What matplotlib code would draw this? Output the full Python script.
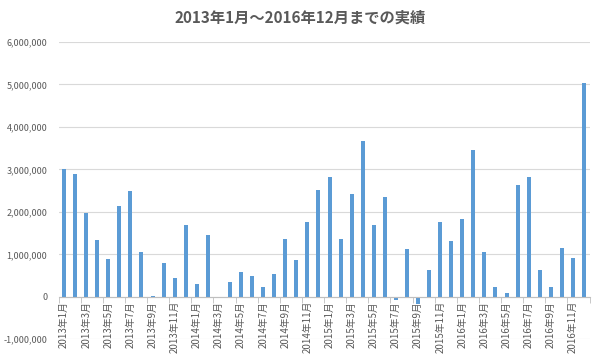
import numpy as np
import matplotlib
matplotlib.use("Agg")
import matplotlib.pyplot as plt
from matplotlib.ticker import FuncFormatter, MultipleLocator

plt.rcParams['font.family'] = ['Noto Sans CJK JP', 'DejaVu Sans']

# monthly results, Jan 2013 - Dec 2016
months = [f"{y}年{m}月" for y in range(2013, 2017) for m in range(1, 13)]
values = [
    3010000, 2890000, 1970000, 1330000, 900000, 2140000,
    2490000, 1045000, 20000, 800000, 440000, 1690000,
    300000, 1445000, -20000, 360000, 580000, 500000,
    240000, 530000, 1370000, 860000, 1770000, 2510000,
    2810000, 1360000, 2410000, 3680000, 1700000, 2340000,
    -80000, 1120000, -170000, 630000, 1760000, 1320000,
    1840000, 3450000, 1060000, 240000, 86000, 2630000,
    2830000, 640000, 220000, 1160000, 925000, 5030000,
]

grey = '#595959'
x = np.arange(len(months))

fig = plt.figure(figsize=(6, 3.59), dpi=100)
ax = fig.add_axes([0.0975, 0.055, 0.885, 0.828])

ax.bar(x, values, width=0.36, color='#5b9bd5', zorder=3)

ax.set_xlim(-0.5, len(months) - 0.5)
ax.set_ylim(-1000000, 6000000)
ax.yaxis.set_major_locator(MultipleLocator(1000000))
ax.yaxis.set_major_formatter(FuncFormatter(lambda v, p: f"{int(v):,}"))
ax.grid(axis='y', color='#d9d9d9', linewidth=0.8, zorder=0)

for s in ['top', 'right', 'left']:
    ax.spines[s].set_visible(False)
ax.spines['bottom'].set_position(('data', 0))
ax.spines['bottom'].set_color('#bfbfbf')
ax.spines['bottom'].set_zorder(4)

ax.tick_params(axis='y', length=0, labelsize=6.5, labelcolor=grey, pad=8)
ax.set_xticks(x[::2])
ax.set_xticklabels(months[::2], rotation=90, fontsize=7, color=grey)
ax.tick_params(axis='x', which='major', length=0, pad=3)
ax.set_xticks(np.arange(-0.5, len(months), 2), minor=True)
ax.tick_params(axis='x', which='minor', length=4, color='#bfbfbf', direction='out')

fig.text(0.5, 0.95, '2013年1月～2016年12月までの実績', ha='center', va='center',
         fontsize=11, fontweight='bold', color=grey)

fig.savefig('out.png', dpi=100)
